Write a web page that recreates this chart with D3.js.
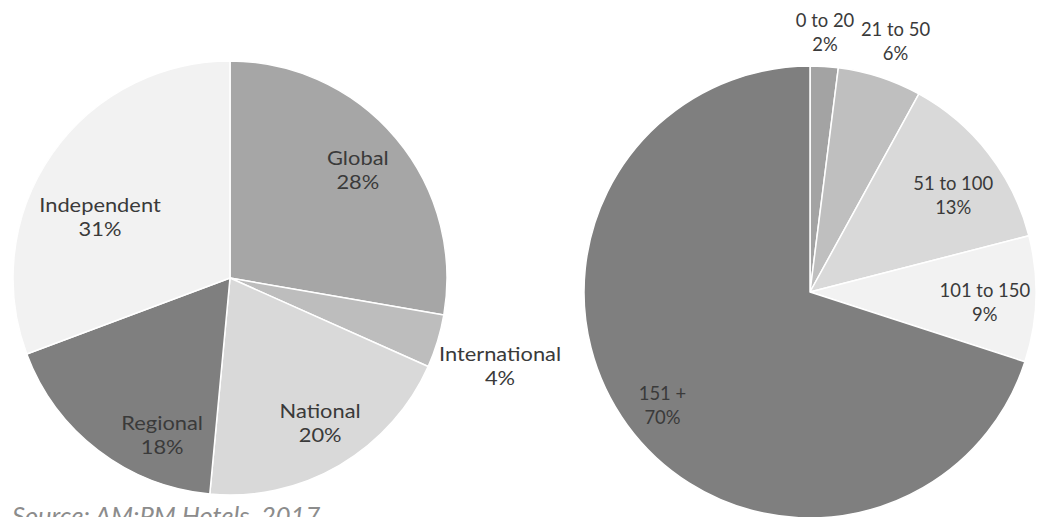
<!DOCTYPE html>
<html>
<head>
<meta charset="utf-8">
<script src="https://cdn.jsdelivr.net/npm/d3@7"></script>
<style>
  html, body { margin: 0; padding: 0; background: #ffffff; }
  svg { display: block; }
</style>
</head>
<body>
<svg id="chart" width="1037" height="517"></svg>
<script>
// Hotel affiliation share
const affiliationLabels = ["Global", "International", "National", "Regional", "Independent"];
const affiliationValues = [28, 4, 20, 18, 31];

// Hotel size (rooms) share
const sizeLabels = ["0 to 20", "21 to 50", "51 to 100", "101 to 150", "151 +"];
const sizeValues = [2, 6, 13, 9, 70];

const sourceText = "Source: AM:PM Hotels, 2017";

// Styling
const affiliationColors = ["#a6a6a6", "#bdbdbd", "#d9d9d9", "#7f7f7f", "#f2f2f2"];
const sizeColors = ["#a3a3a3", "#bfbfbf", "#d9d9d9", "#f2f2f2", "#7f7f7f"];

// Label placement inside each slice: [position across the slice's angle (0..1), radius as fraction of r]
const affiliationLabelPlacement = [[0.50, 0.77], [0.59, 1.31], [0.48, 0.79], [0.28, 0.79], [0.41, 0.66]];
const sizeLabelPlacement = [[0.46, 1.15], [0.54, 1.17], [0.58, 0.765], [0.55, 0.775], [0.494, 0.823]];

const svg = d3.select("#chart");
const font = "Lato, 'Open Sans', sans-serif";

function drawPie(cfg) {
  const g = svg.append("g").attr("transform", `translate(${cfg.cx},${cfg.cy})`);
  const pie = d3.pie().sort(null).value(d => d.value);
  const arc = d3.arc().innerRadius(0).outerRadius(cfg.r);
  const data = cfg.labels.map((l, i) => ({ label: l, value: cfg.values[i], color: cfg.colors[i] }));
  const arcs = pie(data);

  g.selectAll("path")
    .data(arcs)
    .join("path")
    .attr("d", arc)
    .attr("fill", d => d.data.color)
    .attr("stroke", "#ffffff")
    .attr("stroke-width", 1.5)
    .attr("stroke-linejoin", "round");

  const labels = g.selectAll("g.lbl")
    .data(arcs)
    .join("g")
    .attr("class", "lbl")
    .attr("transform", (d, i) => {
      const [t, k] = cfg.placement[i];
      const a = d.startAngle + (d.endAngle - d.startAngle) * t;
      const rr = cfg.r * k;
      return `translate(${Math.sin(a) * rr},${-Math.cos(a) * rr}) scale(${cfg.stretch},1)`;
    })
    .append("text")
    .attr("text-anchor", "middle")
    .attr("font-family", font)
    .attr("font-size", cfg.fontSize)
    .attr("fill", "#3a3a3a");
  labels.append("tspan").attr("x", 0).attr("y", -5.5).text(d => d.data.label);
  labels.append("tspan").attr("x", 0).attr("y", 18.5)
    .text(d => d3.format(".0f")(d.data.value) + "%");
}

drawPie({
  cx: 230, cy: 278, r: 217,
  labels: affiliationLabels, values: affiliationValues, colors: affiliationColors,
  placement: affiliationLabelPlacement,
  fontSize: 19, stretch: 1.15
});

drawPie({
  cx: 810, cy: 292, r: 226,
  labels: sizeLabels, values: sizeValues, colors: sizeColors,
  placement: sizeLabelPlacement,
  fontSize: 19, stretch: 0.97
});

svg.append("text")
  .attr("x", 12)
  .attr("y", 525)
  .attr("font-family", font)
  .attr("font-style", "italic")
  .attr("font-size", 25.5)
  .attr("fill", "#8c8c8c")
  .text(sourceText);
</script>
</body>
</html>
